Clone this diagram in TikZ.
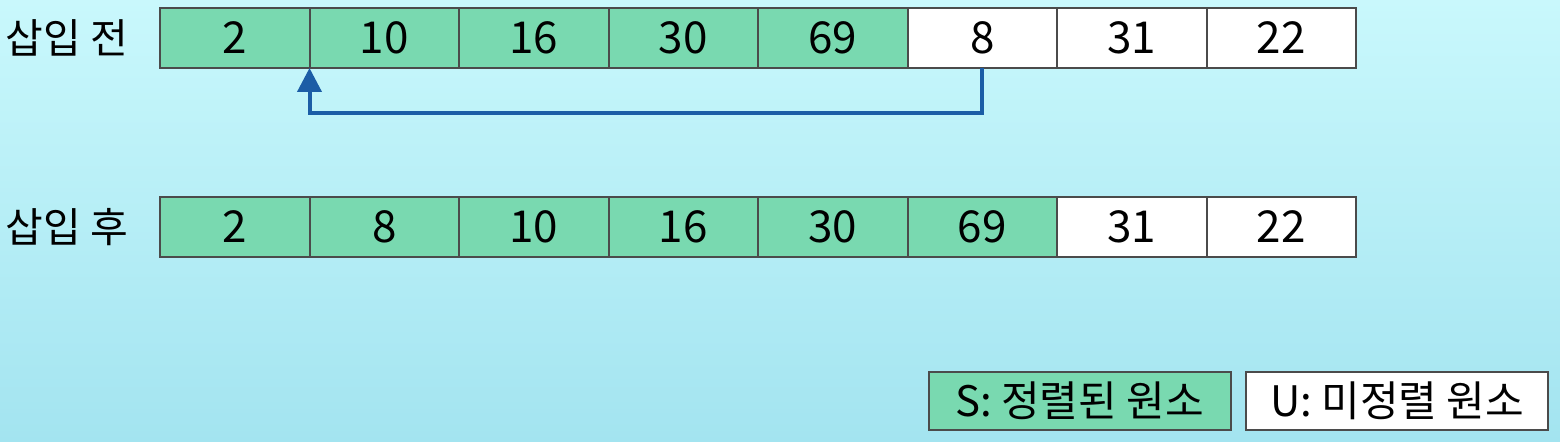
\documentclass[tikz,border=0pt]{standalone}
\usepackage{fontspec}
\setmainfont{Noto Sans CJK KR}
\usetikzlibrary{arrows.meta}

\definecolor{bgtop}{RGB}{201,248,252}
\definecolor{bgbot}{RGB}{163,228,240}
\definecolor{sortgreen}{RGB}{121,217,176}
\definecolor{boxline}{RGB}{75,75,75}
\definecolor{arrowblue}{RGB}{27,93,166}

\tikzset{
  cell/.style={draw=boxline, line width=1pt, fill=white, minimum width=74.75pt,
    minimum height=30pt, inner sep=0pt, outer sep=0pt, font=\fontsize{22}{26}\selectfont},
  sorted/.style={cell, fill=sortgreen},
  rowlabel/.style={anchor=west, inner sep=0pt, font=\fontsize{20.5}{25}\selectfont},
  legend/.style={cell, minimum width=151pt, minimum height=29pt, font=\fontsize{21}{25}\selectfont},
  moveline/.style={arrowblue, line width=2pt, -{Triangle[width=12pt,length=12pt]}}
}

\begin{document}
\begin{tikzpicture}[x=0.5pt, y=-0.5pt]
        \shade[top color=bgtop, bottom color=bgbot] (0,0) rectangle (1560,442);
        \useasboundingbox (0,0) rectangle (1560,442);
        % before insertion
        \node[rowlabel] (before) at (5,38) {삽입 전};
        \node[sorted] (t1) at (234.75,38) {2};
        \node[sorted] (t2) at (384.25,38) {10};
        \node[sorted] (t3) at (533.75,38) {16};
        \node[sorted] (t4) at (683.25,38) {30};
        \node[sorted] (t5) at (832.75,38) {69};
        \node[cell] (t6) at (982.25,38) {8};
        \node[cell] (t7) at (1131.75,38) {31};
        \node[cell] (t8) at (1281.25,38) {22};
        \draw[moveline] (t6.south) -- ++(0,45) -| (t1.south east);
        % after insertion
        \node[rowlabel] (after) at (5,227) {삽입 후};
        \node[sorted] (b1) at (234.75,227) {2};
        \node[sorted] (b2) at (384.25,227) {8};
        \node[sorted] (b3) at (533.75,227) {10};
        \node[sorted] (b4) at (683.25,227) {16};
        \node[sorted] (b5) at (832.75,227) {30};
        \node[sorted] (b6) at (982.25,227) {69};
        \node[cell] (b7) at (1131.75,227) {31};
        \node[cell] (b8) at (1281.25,227) {22};
        % legend
        \node[legend, fill=sortgreen] (S) at (1079.5,401) {S: 정렬된 원소};
        \node[legend] (U) at (1397,401) {U: 미정렬 원소};
    \end{tikzpicture}
\end{document}
